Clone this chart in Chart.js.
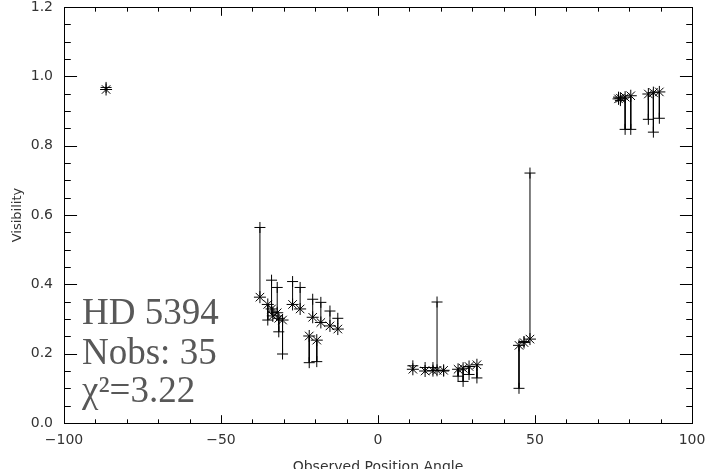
<!DOCTYPE html>
<html>
<head>
<meta charset="utf-8">
<script src="https://cdn.jsdelivr.net/npm/chart.js@4.4.1/dist/chart.umd.min.js"></script>
<style>
  html, body { margin: 0; padding: 0; background: #fff; overflow: hidden; }
  #wrap { width: 710px; height: 469px; }
</style>
</head>
<body>
<div id="wrap"><canvas id="c" width="710" height="469"></canvas></div>
<script>
// Observed position angle of each of the 35 baselines (degrees)
const positionAngle = [
  -86.6,
  -37.6, -35.1, -33.9, -33.5, -32.1, -31.6, -30.4,
  -27.2, -24.8,
  -21.9, -20.8, -19.5, -18.2, -15.3, -12.8,
  11.1, 15.0, 17.5, 18.8, 20.9, 25.5, 27.1, 29.0, 31.5,
  44.9, 46.5, 48.4,
  76.6, 77.2, 78.7, 80.5, 86.1, 87.7, 89.6
];
// Visibility drawn with asterisks
const visAsterisk = [
  0.962,
  0.363, 0.342, 0.329, 0.309, 0.318, 0.302, 0.297,
  0.342, 0.329,
  0.251, 0.305, 0.239, 0.290, 0.280, 0.271,
  0.155, 0.150, 0.151, 0.152, 0.152, 0.155, 0.158, 0.163, 0.168,
  0.224, 0.232, 0.242,
  0.935, 0.937, 0.940, 0.944, 0.949, 0.953, 0.955
];
// Visibility drawn with plus signs
const visPlus = [
  0.968,
  0.564, 0.297, 0.412, 0.320, 0.391, 0.263, 0.199,
  0.408, 0.391,
  0.174, 0.357, 0.177, 0.348, 0.323, 0.302,
  0.165, 0.160, 0.160, 0.349, 0.150, 0.135, 0.120, 0.140, 0.130,
  0.100, 0.235, 0.721,
  0.940, 0.930, 0.847, 0.847, 0.876, 0.839, 0.879
];

const xTickValues = [-100, -50, 0, 50, 100];
const yTickValues = [0.0, 0.2, 0.4, 0.6, 0.8, 1.0, 1.2];
const xMinorStep = 10;
const yMinorStep = 0.05;
const xTitle = 'Observed Position Angle';
const yTitle = 'Visibility';
const infoLines = ['HD 5394', 'Nobs: 35', '\u03c7\u00b2=3.22'];

// point pairs joined by a vertical segment, broken with gaps between pairs
const connectorData = [];
positionAngle.forEach((pa, i) => {
  connectorData.push({ x: pa, y: visAsterisk[i] });
  connectorData.push({ x: pa, y: visPlus[i] });
  connectorData.push({ x: pa, y: null });
});
const asteriskData = positionAngle.map((pa, i) => ({ x: pa, y: visAsterisk[i] }));
const plusData = positionAngle.map((pa, i) => ({ x: pa, y: visPlus[i] }));

const tickFont = { family: 'DejaVu Sans', size: 14 };
const axisColor = '#333';

// full box frame with inward major/minor ticks on all four sides
const framePlugin = {
  id: 'frameTicks',
  beforeDatasetsDraw(chart) {
    const { ctx, chartArea } = chart;
    const xs = chart.scales.x, ys = chart.scales.y;
    const L = Math.round(chartArea.left) + 0.5;
    const R = Math.round(chartArea.right) + 0.5;
    const T = Math.round(chartArea.top) + 0.5;
    const B = Math.round(chartArea.bottom) + 0.5;
    const xMaj = 0.02 * (B - T), yMaj = 0.02 * (R - L);
    ctx.save();
    ctx.strokeStyle = '#000';
    ctx.lineWidth = 1;
    ctx.strokeRect(L, T, R - L, B - T);
    ctx.beginPath();
    const xmin = xs.min, xmax = xs.max;
    for (let k = Math.ceil(xmin / xMinorStep); k <= Math.floor(xmax / xMinorStep); k++) {
      const v = k * xMinorStep;
      const major = xTickValues.some(t => Math.abs(t - v) < 1e-9);
      const len = major ? xMaj : xMaj / 2;
      const px = Math.round(xs.getPixelForValue(v)) + 0.5;
      ctx.moveTo(px, B); ctx.lineTo(px, B - len);
      ctx.moveTo(px, T); ctx.lineTo(px, T + len);
    }
    const nY = Math.round((ys.max - ys.min) / yMinorStep);
    for (let k = 0; k <= nY; k++) {
      const v = ys.min + k * yMinorStep;
      const major = yTickValues.some(t => Math.abs(t - v) < 1e-6);
      const len = major ? yMaj : yMaj / 2;
      const py = Math.round(ys.getPixelForValue(v)) + 0.5;
      ctx.moveTo(L, py); ctx.lineTo(L + len, py);
      ctx.moveTo(R, py); ctx.lineTo(R - len, py);
    }
    ctx.stroke();
    ctx.restore();
  },
  afterDatasetsDraw(chart) {
    const { ctx, chartArea } = chart;
    ctx.save();
    ctx.fillStyle = '#585858';
    ctx.font = '37px "Liberation Serif"';
    ctx.textBaseline = 'alphabetic';
    ctx.textAlign = 'left';
    const x0 = chartArea.left + 18;
    const baselines = [chartArea.bottom - 99, chartArea.bottom - 59, chartArea.bottom - 21];
    infoLines.forEach((t, i) => ctx.fillText(t, x0, baselines[i]));
    ctx.restore();
  }
};

new Chart(document.getElementById('c'), {
  type: 'scatter',
  data: {
    datasets: [
      {
        type: 'line',
        data: connectorData,
        borderColor: '#000',
        borderWidth: 1,
        pointRadius: 0,
        spanGaps: false,
        fill: false
      },
      {
        data: asteriskData,
        pointStyle: 'star',
        pointRadius: 6,
        borderColor: '#000',
        backgroundColor: '#000',
        borderWidth: 1
      },
      {
        data: plusData,
        pointStyle: 'cross',
        pointRadius: 5.5,
        borderColor: '#000',
        backgroundColor: '#000',
        borderWidth: 1
      }
    ]
  },
  options: {
    responsive: false,
    animation: false,
    devicePixelRatio: 1,
    layout: { padding: { top: 7, right: 18, left: 0, bottom: 0 } },
    plugins: { legend: { display: false }, tooltip: { enabled: false } },
    scales: {
      x: {
        type: 'linear',
        min: -100, max: 100,
        grid: { display: false, drawTicks: false },
        border: { display: false },
        afterBuildTicks: s => { s.ticks = xTickValues.map(v => ({ value: v })); },
        afterFit: s => { s.height = 46; s.paddingLeft = 0; s.paddingRight = 0; },
        ticks: {
          font: tickFont, color: axisColor, padding: 9, maxRotation: 0,
          callback: v => String(v).replace('-', '\u2212')
        },
        title: {
          display: true, text: xTitle, font: tickFont, color: axisColor,
          padding: { top: 0, bottom: -7 }
        }
      },
      y: {
        type: 'linear',
        min: 0, max: 1.2,
        grid: { display: false, drawTicks: false },
        border: { display: false },
        afterBuildTicks: s => { s.ticks = yTickValues.map(v => ({ value: v })); },
        afterFit: s => { s.width = 64; s.paddingTop = 0; s.paddingBottom = 0; },
        ticks: {
          font: tickFont, color: axisColor, padding: 11,
          callback: v => Number(v).toFixed(1)
        },
        title: {
          display: true, text: yTitle, font: { family: 'DejaVu Sans', size: 13 }, color: axisColor,
          padding: { top: 10, bottom: 0 }
        }
      }
    }
  },
  plugins: [framePlugin]
});
</script>
</body>
</html>
